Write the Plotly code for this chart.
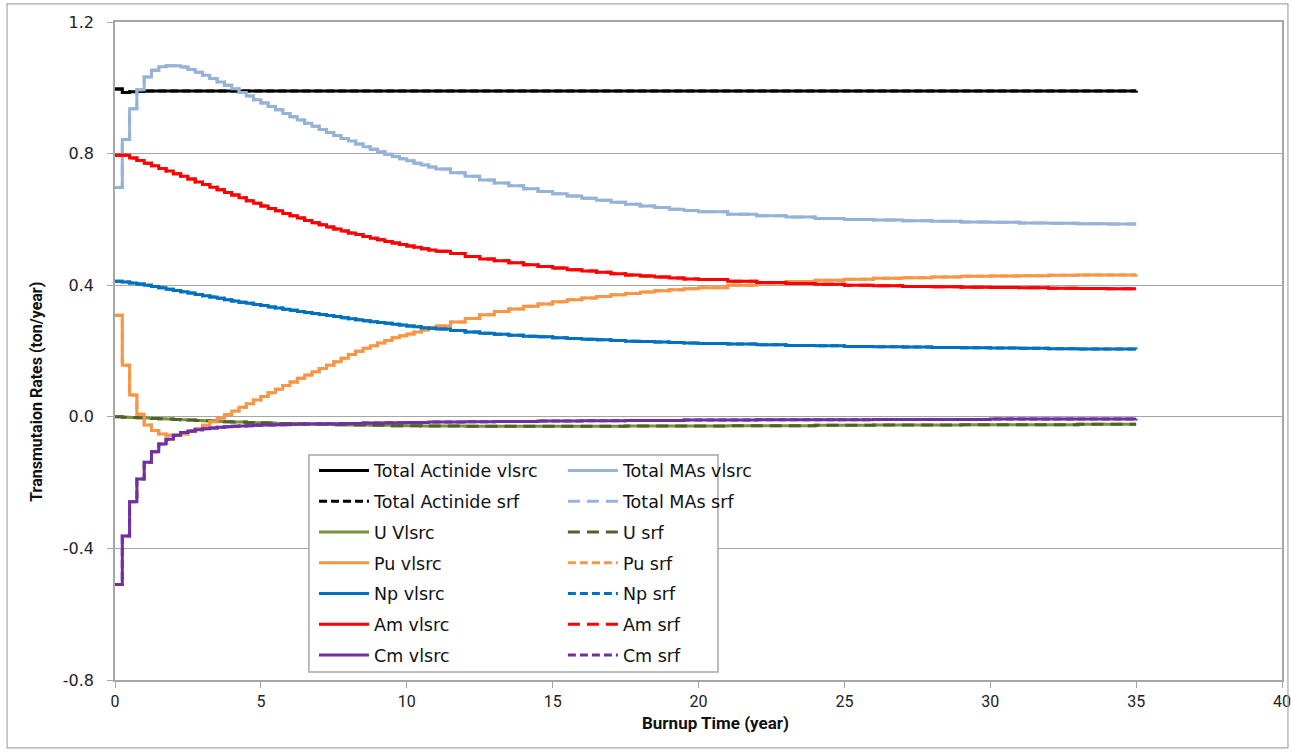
import plotly.graph_objects as go

# Burnup time grid (years): quarter-year steps early on, coarser later
time_yr = [
    0, 0.25, 0.5, 0.75, 1, 1.25, 1.5, 1.75, 2, 2.25, 2.5,
    2.75, 3, 3.25, 3.5, 3.75, 4, 4.25, 4.5, 4.75, 5, 5.25,
    5.5, 5.75, 6, 6.25, 6.5, 6.75, 7, 7.25, 7.5, 7.75, 8,
    8.25, 8.5, 8.75, 9, 9.25, 9.5, 9.75, 10, 10.25, 10.5, 10.75,
    11, 11.5, 12, 12.5, 13, 13.5, 14, 14.5, 15, 15.5, 16, 16.5, 17, 17.5, 18, 18.5, 19, 19.5, 20,
    21, 22, 23, 24, 25, 26, 27, 28, 29, 30, 31, 32, 33, 34, 35,
]

# Transmutation rates (ton/year)
total_actinide = [
    0.996, 0.986, 0.988, 0.989, 0.990, 0.990, 0.990, 0.990, 0.990, 0.990, 0.990,
    0.990, 0.990, 0.990, 0.990, 0.990, 0.990, 0.990, 0.990, 0.990, 0.990, 0.990,
    0.990, 0.990, 0.990, 0.990, 0.990, 0.990, 0.990, 0.990, 0.990, 0.990, 0.990,
    0.990, 0.990, 0.990, 0.990, 0.990, 0.990, 0.990, 0.990, 0.990, 0.990, 0.990,
    0.990, 0.990, 0.990, 0.990, 0.990, 0.990, 0.990, 0.990, 0.990, 0.990, 0.990, 0.990, 0.990, 0.990, 0.990, 0.990, 0.990, 0.990, 0.990,
    0.990, 0.990, 0.990, 0.990, 0.990, 0.990, 0.990, 0.990, 0.990, 0.990, 0.990, 0.990, 0.990, 0.990, 0.991,
]
total_mas = [
    0.697, 0.843, 0.936, 0.994, 1.033, 1.053, 1.064, 1.067, 1.067, 1.063, 1.056,
    1.047, 1.038, 1.028, 1.018, 1.008, 0.997, 0.986, 0.975, 0.964, 0.954, 0.943,
    0.933, 0.922, 0.912, 0.902, 0.892, 0.883, 0.873, 0.864, 0.855, 0.846, 0.838,
    0.829, 0.821, 0.813, 0.806, 0.798, 0.791, 0.784, 0.778, 0.771, 0.765, 0.759,
    0.753, 0.742, 0.731, 0.720, 0.711, 0.702, 0.693, 0.685, 0.678, 0.671, 0.664, 0.658, 0.652, 0.646, 0.641, 0.636, 0.631, 0.627, 0.623,
    0.616, 0.611, 0.607, 0.603, 0.600, 0.598, 0.596, 0.594, 0.592, 0.591, 0.589, 0.588, 0.587, 0.586, 0.586,
]
uranium = [
    0.000, -0.001, -0.002, -0.003, -0.004, -0.005, -0.006, -0.007, -0.008, -0.009, -0.010,
    -0.011, -0.012, -0.013, -0.014, -0.015, -0.016, -0.016, -0.017, -0.018, -0.018, -0.019,
    -0.020, -0.020, -0.021, -0.021, -0.022, -0.022, -0.023, -0.023, -0.024, -0.024, -0.025,
    -0.025, -0.025, -0.026, -0.026, -0.026, -0.027, -0.027, -0.027, -0.027, -0.028, -0.028,
    -0.028, -0.028, -0.029, -0.029, -0.029, -0.029, -0.029, -0.029, -0.029, -0.029, -0.029, -0.029, -0.029, -0.028, -0.028, -0.028, -0.028, -0.028, -0.028,
    -0.027, -0.027, -0.027, -0.026, -0.026, -0.025, -0.025, -0.025, -0.024, -0.024, -0.024, -0.024, -0.023, -0.023, -0.023,
]
plutonium = [
    0.309, 0.157, 0.066, 0.008, -0.025, -0.042, -0.052, -0.056, -0.056, -0.052, -0.045,
    -0.036, -0.026, -0.015, -0.004, 0.007, 0.018, 0.029, 0.040, 0.051, 0.062, 0.073,
    0.084, 0.095, 0.106, 0.117, 0.127, 0.137, 0.147, 0.157, 0.167, 0.178, 0.189,
    0.199, 0.208, 0.216, 0.224, 0.232, 0.240, 0.246, 0.252, 0.258, 0.264, 0.270,
    0.276, 0.288, 0.299, 0.310, 0.320, 0.328, 0.336, 0.343, 0.350, 0.356, 0.361, 0.366, 0.371, 0.375, 0.379, 0.383, 0.386, 0.389, 0.392,
    0.400, 0.406, 0.411, 0.415, 0.418, 0.421, 0.423, 0.425, 0.427, 0.428, 0.429, 0.430, 0.431, 0.431, 0.432,
]
neptunium = [
    0.412, 0.410, 0.407, 0.404, 0.400, 0.396, 0.392, 0.388, 0.384, 0.380, 0.376,
    0.372, 0.368, 0.364, 0.360, 0.356, 0.352, 0.348, 0.345, 0.341, 0.338, 0.334,
    0.331, 0.327, 0.324, 0.320, 0.317, 0.314, 0.311, 0.308, 0.305, 0.301, 0.298,
    0.295, 0.292, 0.289, 0.287, 0.284, 0.281, 0.279, 0.276, 0.274, 0.271, 0.269,
    0.267, 0.262, 0.258, 0.254, 0.251, 0.248, 0.245, 0.243, 0.240, 0.238, 0.236, 0.234, 0.232, 0.230, 0.229, 0.227, 0.226, 0.224, 0.223,
    0.221, 0.219, 0.217, 0.216, 0.214, 0.213, 0.212, 0.211, 0.210, 0.209, 0.208, 0.207, 0.206, 0.206, 0.205,
]
americium = [
    0.795, 0.795, 0.787, 0.779, 0.771, 0.763, 0.755, 0.747, 0.739, 0.731, 0.723,
    0.714, 0.706, 0.698, 0.690, 0.682, 0.674, 0.666, 0.657, 0.649, 0.641, 0.633,
    0.626, 0.618, 0.611, 0.604, 0.597, 0.590, 0.584, 0.577, 0.571, 0.565, 0.559,
    0.554, 0.548, 0.543, 0.538, 0.533, 0.528, 0.524, 0.519, 0.515, 0.511, 0.507,
    0.503, 0.496, 0.487, 0.480, 0.474, 0.468, 0.462, 0.457, 0.452, 0.447, 0.443, 0.439, 0.435, 0.431, 0.428, 0.425, 0.422, 0.419, 0.417,
    0.412, 0.408, 0.405, 0.403, 0.400, 0.398, 0.396, 0.395, 0.394, 0.393, 0.392, 0.391, 0.390, 0.389, 0.389,
]
curium = [
    -0.510, -0.362, -0.258, -0.189, -0.138, -0.106, -0.083, -0.068, -0.056, -0.048, -0.043,
    -0.039, -0.036, -0.034, -0.032, -0.030, -0.029, -0.028, -0.027, -0.026, -0.025, -0.025,
    -0.024, -0.024, -0.023, -0.023, -0.022, -0.022, -0.021, -0.021, -0.021, -0.020, -0.020,
    -0.020, -0.019, -0.019, -0.019, -0.018, -0.018, -0.018, -0.017, -0.017, -0.017, -0.016,
    -0.016, -0.016, -0.015, -0.015, -0.014, -0.014, -0.014, -0.013, -0.013, -0.013, -0.012, -0.012, -0.012, -0.011, -0.011, -0.011, -0.011, -0.010, -0.010,
    -0.010, -0.009, -0.009, -0.009, -0.009, -0.008, -0.008, -0.008, -0.008, -0.007, -0.007, -0.007, -0.007, -0.007, -0.006,
]

# The srf solution coincides with the vlsrc solution on this scale
series = [
    # (name, values, color, dash, legend column)
    ("Total Actinide vlsrc", total_actinide, "#000000", "solid", "legend"),
    ("Total Actinide srf", total_actinide, "#000000", "8px,4px", "legend"),
    ("Total MAs vlsrc", total_mas, "#95B3D7", "solid", "legend2"),
    ("Total MAs srf", total_mas, "#95B3D7", "12px,7px", "legend2"),
    ("U Vlsrc", uranium, "#77933C", "solid", "legend"),
    ("U srf", uranium, "#4F6228", "12px,7px", "legend2"),
    ("Pu vlsrc", plutonium, "#F79646", "solid", "legend"),
    ("Pu srf", plutonium, "#F79646", "8px,4px", "legend2"),
    ("Np vlsrc", neptunium, "#0070C0", "solid", "legend"),
    ("Np srf", neptunium, "#0070C0", "8px,4px", "legend2"),
    ("Am vlsrc", americium, "#FF0000", "solid", "legend"),
    ("Am srf", americium, "#FF0000", "12px,7px", "legend2"),
    ("Cm vlsrc", curium, "#7030A0", "solid", "legend"),
    ("Cm srf", curium, "#7030A0", "8px,4px", "legend2"),
]

y_tick_vals = [-0.8, -0.4, 0.0, 0.4, 0.8, 1.2]
y_tick_text = ["-0.8", "-0.4", "0.0", "0.4", "0.8", "1.2"]
x_tick_vals = [0, 5, 10, 15, 20, 25, 30, 35, 40]

fig = go.Figure()
for name, vals, color, dash, leg in series:
    fig.add_trace(go.Scatter(
        x=time_yr, y=vals, name=name, mode="lines",
        line=dict(color=color, width=3, dash=dash, shape="hv"),
        legend=leg, legendgroup=name,
    ))

grid = "#A6A6A6"
legend_font = dict(family="DejaVu Sans", size=17.5, color="#111111")
common_legend = dict(
    orientation="v", xanchor="left", yanchor="top",
    bgcolor="rgba(0,0,0,0)", borderwidth=0, font=legend_font,
    itemwidth=50, tracegroupgap=5, itemclick=False, itemdoubleclick=False,
)

fig.update_layout(
    width=1291, height=752,
    margin=dict(l=115, r=9, t=22, b=72, autoexpand=False),
    paper_bgcolor="white", plot_bgcolor="white",
    showlegend=True,
    legend=dict(x=0.1705, y=0.3455, **common_legend),
    legend2=dict(x=0.3838, y=0.3455, **common_legend),
    xaxis=dict(
        range=[0, 40], tickvals=x_tick_vals, ticks="outside", ticklen=6,
        tickcolor=grid, showline=True, linecolor=grid, linewidth=1.5,
        mirror=True, showgrid=False, zeroline=False,
        tickfont=dict(family="Liberation Sans Narrow, Roboto, sans-serif", size=16, color="#222222"),
    ),
    yaxis=dict(
        range=[-0.8, 1.2], tickvals=y_tick_vals, ticktext=y_tick_text,
        ticks="outside", ticklen=6, tickcolor=grid, ticklabelstandoff=10,
        showline=True, linecolor=grid, linewidth=1.5, mirror=True,
        showgrid=True, gridcolor=grid, gridwidth=1.2, zeroline=False,
        tickfont=dict(family="DejaVu Sans", size=16, color="#222222"),
    ),
    shapes=[
        # legend frame
        dict(type="rect", xref="paper", yref="paper",
             x0=0.1662, x1=0.5167, y0=0.0122, y1=0.3419,
             fillcolor="white", line=dict(color=grid, width=1.5), layer="above"),
        # chart frame
        dict(type="rect", xref="paper", yref="paper",
             x0=-0.0925, x1=1.0051, y0=-0.1033, y1=1.0274,
             fillcolor="rgba(0,0,0,0)", line=dict(color=grid, width=1.2), layer="above"),
    ],
    annotations=[
        dict(text="<b>Burnup Time (year)</b>", xref="paper", yref="paper",
             x=0.5146, y=-0.0653, xanchor="center", yanchor="middle", showarrow=False,
             font=dict(family="Liberation Sans Narrow, Roboto, sans-serif", size=17, color="#111111")),
        dict(text="<b>Transmutaion Rates (ton/year)</b>", xref="paper", yref="paper",
             x=-0.0668, y=0.438, xanchor="center", yanchor="middle", showarrow=False,
             textangle=-90,
             font=dict(family="Liberation Sans Narrow, Roboto, sans-serif", size=16, color="#111111")),
    ],
)

fig.write_html("out.html")
